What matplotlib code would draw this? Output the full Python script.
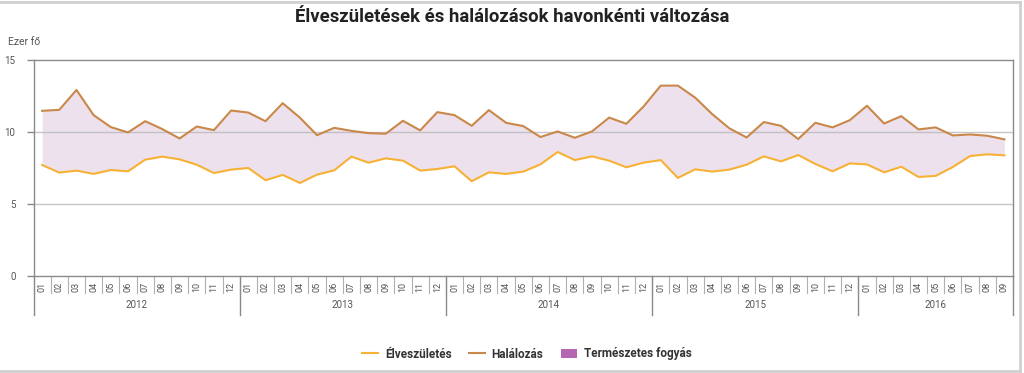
import numpy as np
import matplotlib
matplotlib.use('Agg')
import matplotlib.pyplot as plt
from matplotlib.lines import Line2D
from matplotlib.patches import Patch
import matplotlib.transforms as mtransforms

plt.rcParams['font.family'] = ['Roboto', 'DejaVu Sans']

# data (ezer fő), 2012-01 .. 2016-09
years = ['2012', '2013', '2014', '2015', '2016']
months_per_year = [12, 12, 12, 12, 9]
month_labels = ['01', '02', '03', '04', '05', '06', '07', '08', '09', '10', '11', '12']

births = [7.71, 7.18, 7.32, 7.09, 7.36, 7.27, 8.08, 8.29, 8.10, 7.73, 7.15, 7.39,
          7.50, 6.65, 7.02, 6.46, 7.04, 7.34, 8.29, 7.87, 8.17, 8.01, 7.32, 7.43,
          7.62, 6.58, 7.20, 7.09, 7.25, 7.75, 8.61, 8.05, 8.31, 8.01, 7.55, 7.87,
          8.05, 6.81, 7.41, 7.25, 7.39, 7.73, 8.31, 7.96, 8.40, 7.78, 7.27, 7.82,
          7.75, 7.20, 7.59, 6.88, 6.95, 7.57, 8.33, 8.45, 8.38]
deaths = [11.47, 11.54, 12.92, 11.17, 10.34, 9.97, 10.75, 10.20, 9.55, 10.38, 10.13, 11.49,
          11.35, 10.75, 12.00, 11.00, 9.78, 10.29, 10.08, 9.92, 9.88, 10.78, 10.11, 11.38,
          11.17, 10.43, 11.52, 10.64, 10.41, 9.65, 10.04, 9.60, 10.04, 11.00, 10.57, 11.77,
          13.22, 13.22, 12.39, 11.24, 10.25, 9.62, 10.69, 10.43, 9.51, 10.64, 10.32, 10.82,
          11.82, 10.59, 11.10, 10.18, 10.32, 9.76, 9.83, 9.74, 9.49]

c_birth = '#f7b135'
c_death = '#c98849'
c_fill = '#ede1ee'
c_patch = '#b467b0'
c_axis = '#8a8a8a'
c_text = '#555555'

n = len(births)
x = np.arange(n)
labels = []
for cnt in months_per_year:
    labels += month_labels[:cnt]

fig = plt.figure(figsize=(10.24, 3.73), dpi=100)
W, H = 1024, 373
ax = fig.add_axes([33.5 / W, 1 - 276 / H, (1013 - 33.5) / W, (276 - 60) / H])

ax.fill_between(x, births, deaths, color=c_fill, lw=0, zorder=1)
for yv in [5, 10]:
    ax.axhline(yv, color='#b8b8b8', lw=1, alpha=0.8, zorder=2)
ax.plot(x, deaths, color=c_death, lw=1.5, zorder=3)
ax.plot(x, births, color=c_birth, lw=1.5, zorder=3)

ax.set_xlim(-0.5, n - 0.5)
ax.set_ylim(0, 15)
ax.set_yticks([0, 5, 10, 15])
ax.tick_params(axis='y', length=5, width=1, color=c_axis, labelcolor=c_text,
               labelsize=7, pad=8)
ax.set_xticks(x)
ax.set_xticklabels(labels, rotation=90, fontsize=6.5, color=c_text)
ax.tick_params(axis='x', length=0, pad=4)
for s in ax.spines.values():
    s.set_color(c_axis)
    s.set_linewidth(1)

# two-level category separators
trans = mtransforms.blended_transform_factory(ax.transData, ax.transAxes)
short = -17 / 216
long_ = -39 / 216
for i in range(n + 1):
    ax.plot([i - 0.5, i - 0.5], [0, short], transform=trans, color='#b0b0b0',
            lw=0.8, clip_on=False)
start = 0
for yr, cnt in zip(years, months_per_year):
    ax.plot([start - 0.5, start - 0.5], [0, long_], transform=trans, color=c_axis,
            lw=1, clip_on=False)
    ax.text(start + cnt / 2 - 0.5, -29 / 216, yr, transform=trans, ha='center',
            va='center', fontsize=7, color=c_text)
    start += cnt
ax.plot([n - 0.5, n - 0.5], [0, long_], transform=trans, color=c_axis, lw=1, clip_on=False)

fig.text(512 / W, 1 - 17 / H, 'Élveszületések és halálozások havonkénti változása',
         ha='center', va='center', fontsize=13.3, fontweight='bold', color='#222222')
fig.text(8 / W, 1 - 42 / H, 'Ezer fő', ha='left', va='center', fontsize=7.5, color=c_text)

handles = [Line2D([], [], color=c_birth, lw=1.5),
           Line2D([], [], color=c_death, lw=1.5),
           Patch(facecolor=c_patch, edgecolor='none')]
leg = fig.legend(handles, ['Élveszületés', 'Halálozás', 'Természetes fogyás'],
                 loc='center', bbox_to_anchor=(527 / W, 1 - 354 / H), ncol=3,
                 frameon=False, fontsize=8.5, handlelength=1.3, handleheight=0.9,
                 columnspacing=1.5, handletextpad=0.6)
for t in leg.get_texts():
    t.set_fontweight('bold')
    t.set_color('#333333')

# outer frame
fig.add_artist(Line2D([0, 1020 / W], [1 - 1.5 / H] * 2, color='#d0d0d0', lw=2))
fig.add_artist(Line2D([1020 / W] * 2, [1 - 1.5 / H, 1 - 371 / H], color='#d0d0d0', lw=2))
fig.add_artist(Line2D([0, 1020 / W], [1 - 371 / H] * 2, color='#d0d0d0', lw=2))

fig.savefig('out.png', dpi=100)
